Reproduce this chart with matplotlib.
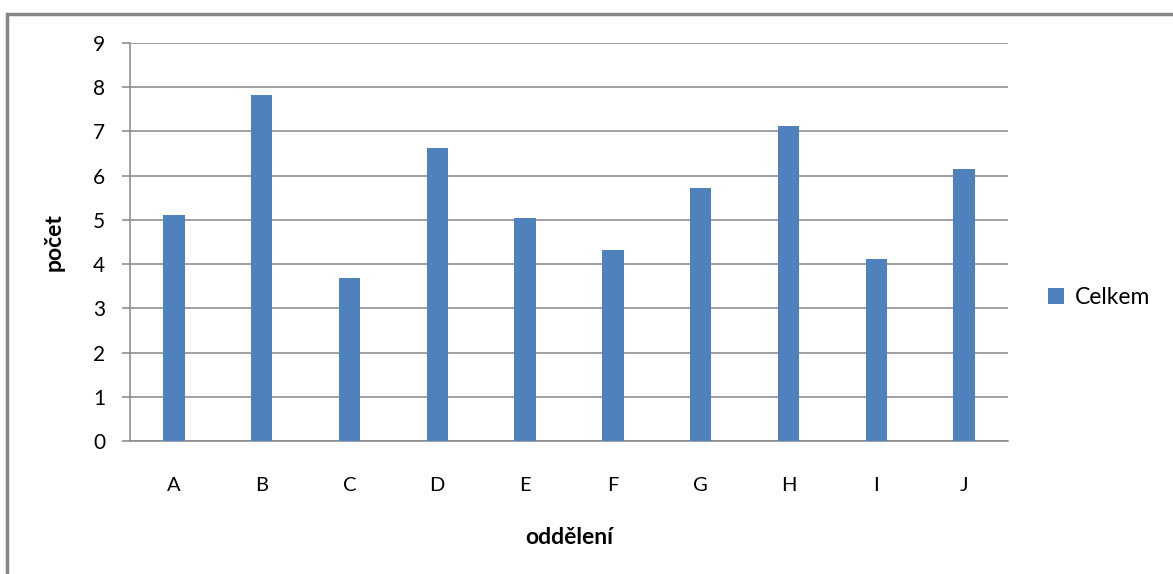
import matplotlib.pyplot as plt
from matplotlib.patches import Rectangle
import numpy as np

# data
categories = ['A', 'B', 'C', 'D', 'E', 'F', 'G', 'H', 'I', 'J']
celkem = [5.1, 7.83, 3.69, 6.63, 5.05, 4.32, 5.72, 7.13, 4.12, 6.15]

plt.rcParams['font.family'] = ['Lato', 'DejaVu Sans']
plt.rcParams['font.size'] = 14

grid_col = '#868686'
bar_col = '#4F81BD'

fig = plt.figure(figsize=(11.73, 5.74), dpi=100)
ax = fig.add_axes([130/1173, 1 - 441/574, 878/1173, 398/574])

x = np.arange(len(categories))
ax.bar(x, celkem, width=0.245, color=bar_col, label='Celkem', zorder=3)

ax.set_xlim(-0.5, len(categories) - 0.5)
ax.set_ylim(0, 9)
ax.set_yticks(range(0, 10))
ax.set_xticks(x)
ax.set_xticklabels(categories)

ax.grid(True, axis='y', color=grid_col, linewidth=1.1, zorder=1)
for side in ['top', 'right']:
    ax.spines[side].set_visible(False)
ax.spines['left'].set_color(grid_col)
ax.spines['bottom'].set_color(grid_col)
ax.spines['left'].set_linewidth(1.1)
ax.spines['bottom'].set_linewidth(1.1)

ax.tick_params(axis='y', length=6, width=1.1, color=grid_col, pad=12, labelsize=15)
ax.tick_params(axis='x', length=0, pad=26, labelsize=14.5)

ax.set_ylabel('počet', fontweight='bold', fontsize=16.5, labelpad=20)
ax.set_xlabel('oddělení', fontweight='bold', fontsize=16.5, labelpad=24)

ax.legend(loc='center left', bbox_to_anchor=(1.045, 0.36), frameon=False,
          borderaxespad=0, borderpad=0, handlelength=0.7, handleheight=0.7,
          handletextpad=0.5, fontsize=16.5)

# outer chart border (cut off at right and bottom in the reference)
fig.patches.append(Rectangle((7/1173, -0.05), 1.1, 1 - 14/574 + 0.05,
                             transform=fig.transFigure, fill=False,
                             edgecolor=grid_col, linewidth=2.5))

fig.savefig('out.png', dpi=100)
